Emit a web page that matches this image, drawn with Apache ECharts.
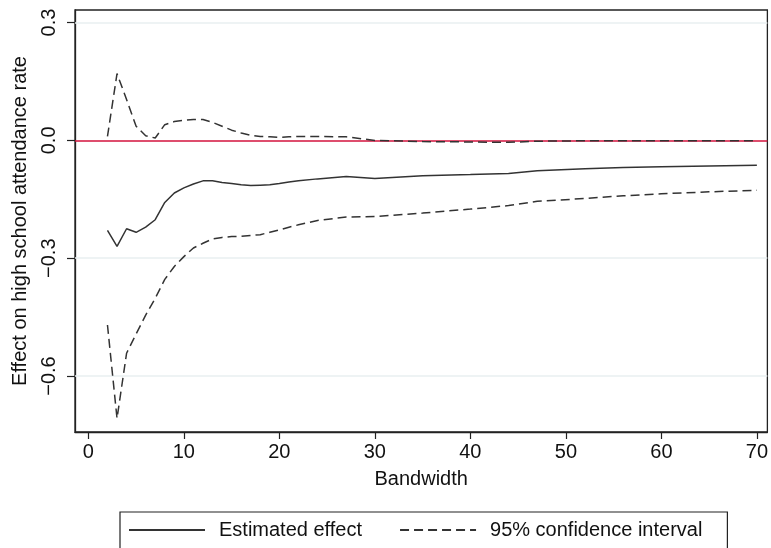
<!DOCTYPE html>
<html><head><meta charset="utf-8">
<script src="https://cdn.jsdelivr.net/npm/echarts@6/dist/echarts.min.js"></script>
<style>html,body{margin:0;padding:0;background:#fff}#c{width:771px;height:548px}</style>
</head><body><div id="c"></div>
<script>
var bandwidth = [2,3,4,5,6,7,8,9,10,11,12,13,14,15,16,17,18,19,20,21,22,24,27,30,35,40,44,47,52,56,60,65,70];
var estimate = [-0.229,-0.270,-0.225,-0.234,-0.221,-0.202,-0.158,-0.134,-0.121,-0.111,-0.103,-0.103,-0.107,-0.110,-0.113,-0.115,-0.114,-0.113,-0.110,-0.106,-0.103,-0.098,-0.092,-0.097,-0.090,-0.087,-0.084,-0.077,-0.072,-0.069,-0.067,-0.065,-0.063];
var upperCI = [0.010,0.170,0.104,0.036,0.012,0.006,0.040,0.048,0.051,0.053,0.053,0.046,0.036,0.026,0.019,0.013,0.010,0.009,0.008,0.009,0.010,0.010,0.009,0.000,-0.003,-0.004,-0.005,-0.002,-0.001,-0.001,-0.001,-0.001,-0.001];
var lowerCI = [-0.470,-0.708,-0.542,-0.493,-0.445,-0.402,-0.354,-0.321,-0.296,-0.274,-0.262,-0.251,-0.247,-0.245,-0.244,-0.242,-0.240,-0.234,-0.228,-0.221,-0.215,-0.204,-0.195,-0.194,-0.185,-0.175,-0.166,-0.155,-0.148,-0.141,-0.136,-0.131,-0.127];
var xTicks = [0,10,20,30,40,50,60,70];
var yTicks = [-0.6,-0.3,0.0,0.3];
var gridValues = [0.3,-0.3,-0.6];
var zeroLine = 0;

function pairs(xs, ys){ return xs.map(function(x,i){return [x, ys[i]];}); }
var FONT = 'Liberation Sans';
var chart = echarts.init(document.getElementById('c'), null, {renderer:'canvas'});
chart.setOption({
  backgroundColor:'#fff',
  animation:false,
  textStyle:{fontFamily:FONT},
  grid:{left:75, top:10, right:3, bottom:116, show:true, borderColor:'#222', borderWidth:1.3, backgroundColor:'#fff'},
  xAxis:{type:'value', min:-1.4, max:71.1,
    name:'Bandwidth', nameLocation:'middle', nameGap:37,
    nameTextStyle:{fontSize:20, color:'#111', fontFamily:FONT},
    axisLine:{show:true, onZero:false, lineStyle:{color:'#222', width:1.3}},
    axisTick:{show:true, length:7, customValues:xTicks, lineStyle:{color:'#222', width:1.2}},
    axisLabel:{customValues:xTicks, fontSize:20, color:'#111', margin:10, fontFamily:FONT},
    splitLine:{show:false}},
  yAxis:{type:'value', min:-0.7425, max:0.332,
    name:'Effect on high school attendance rate', nameLocation:'middle', nameGap:45,
    nameTextStyle:{fontSize:20, color:'#111', fontFamily:FONT},
    axisLine:{show:true, onZero:false, lineStyle:{color:'#222', width:1.3}},
    axisTick:{show:true, length:8, customValues:yTicks, lineStyle:{color:'#222', width:1.2}},
    axisLabel:{customValues:yTicks, rotate:90, fontSize:20, color:'#111', margin:16, fontFamily:FONT,
      formatter:function(v){ return (v<0?'\u2212':'') + Math.abs(v).toFixed(1); }},
    splitLine:{show:false}},
  legend:{
    data:['Estimated effect','95% confidence interval'],
    left:120, top:512,
    padding:[8,25,20,8], itemGap:37, itemWidth:76, itemHeight:14,
    borderColor:'#222', borderWidth:1.2, backgroundColor:'#fff',
    itemStyle:{opacity:0, borderWidth:0},
    formatter:function(n){ return '{t|' + n + '}'; },
    textStyle:{fontSize:20, color:'#111', fontFamily:FONT,
      rich:{t:{fontSize:20, color:'#111', fontFamily:FONT, padding:[0,0,0,9]}}}
  },
  series:[
    {type:'line', name:'grid', data:[], silent:true, z:1,
     markLine:{symbol:'none', silent:true, label:{show:false},
       lineStyle:{color:'#e9eff1', width:1.5, type:'solid'},
       data:gridValues.map(function(v){return {yAxis:v};})}},
    {type:'line', name:'zero', data:[], silent:true, z:2,
     markLine:{symbol:'none', silent:true, label:{show:false},
       lineStyle:{color:'#d3123d', width:1.6, type:'solid'},
       data:[{yAxis:zeroLine}]}},
    {type:'line', name:'Estimated effect', data:pairs(bandwidth, estimate), symbol:'none', z:5,
     lineStyle:{color:'#333', width:1.5, type:'solid'}, itemStyle:{color:'#333'}},
    {type:'line', name:'95% confidence interval', data:pairs(bandwidth, upperCI), symbol:'none', z:5,
     lineStyle:{color:'#333', width:1.5, type:[9,5]}, itemStyle:{color:'#333'}},
    {type:'line', name:'95% confidence interval', data:pairs(bandwidth, lowerCI), symbol:'none', z:5,
     lineStyle:{color:'#333', width:1.5, type:[9,5]}, itemStyle:{color:'#333'}}
  ]
});
</script></body></html>
